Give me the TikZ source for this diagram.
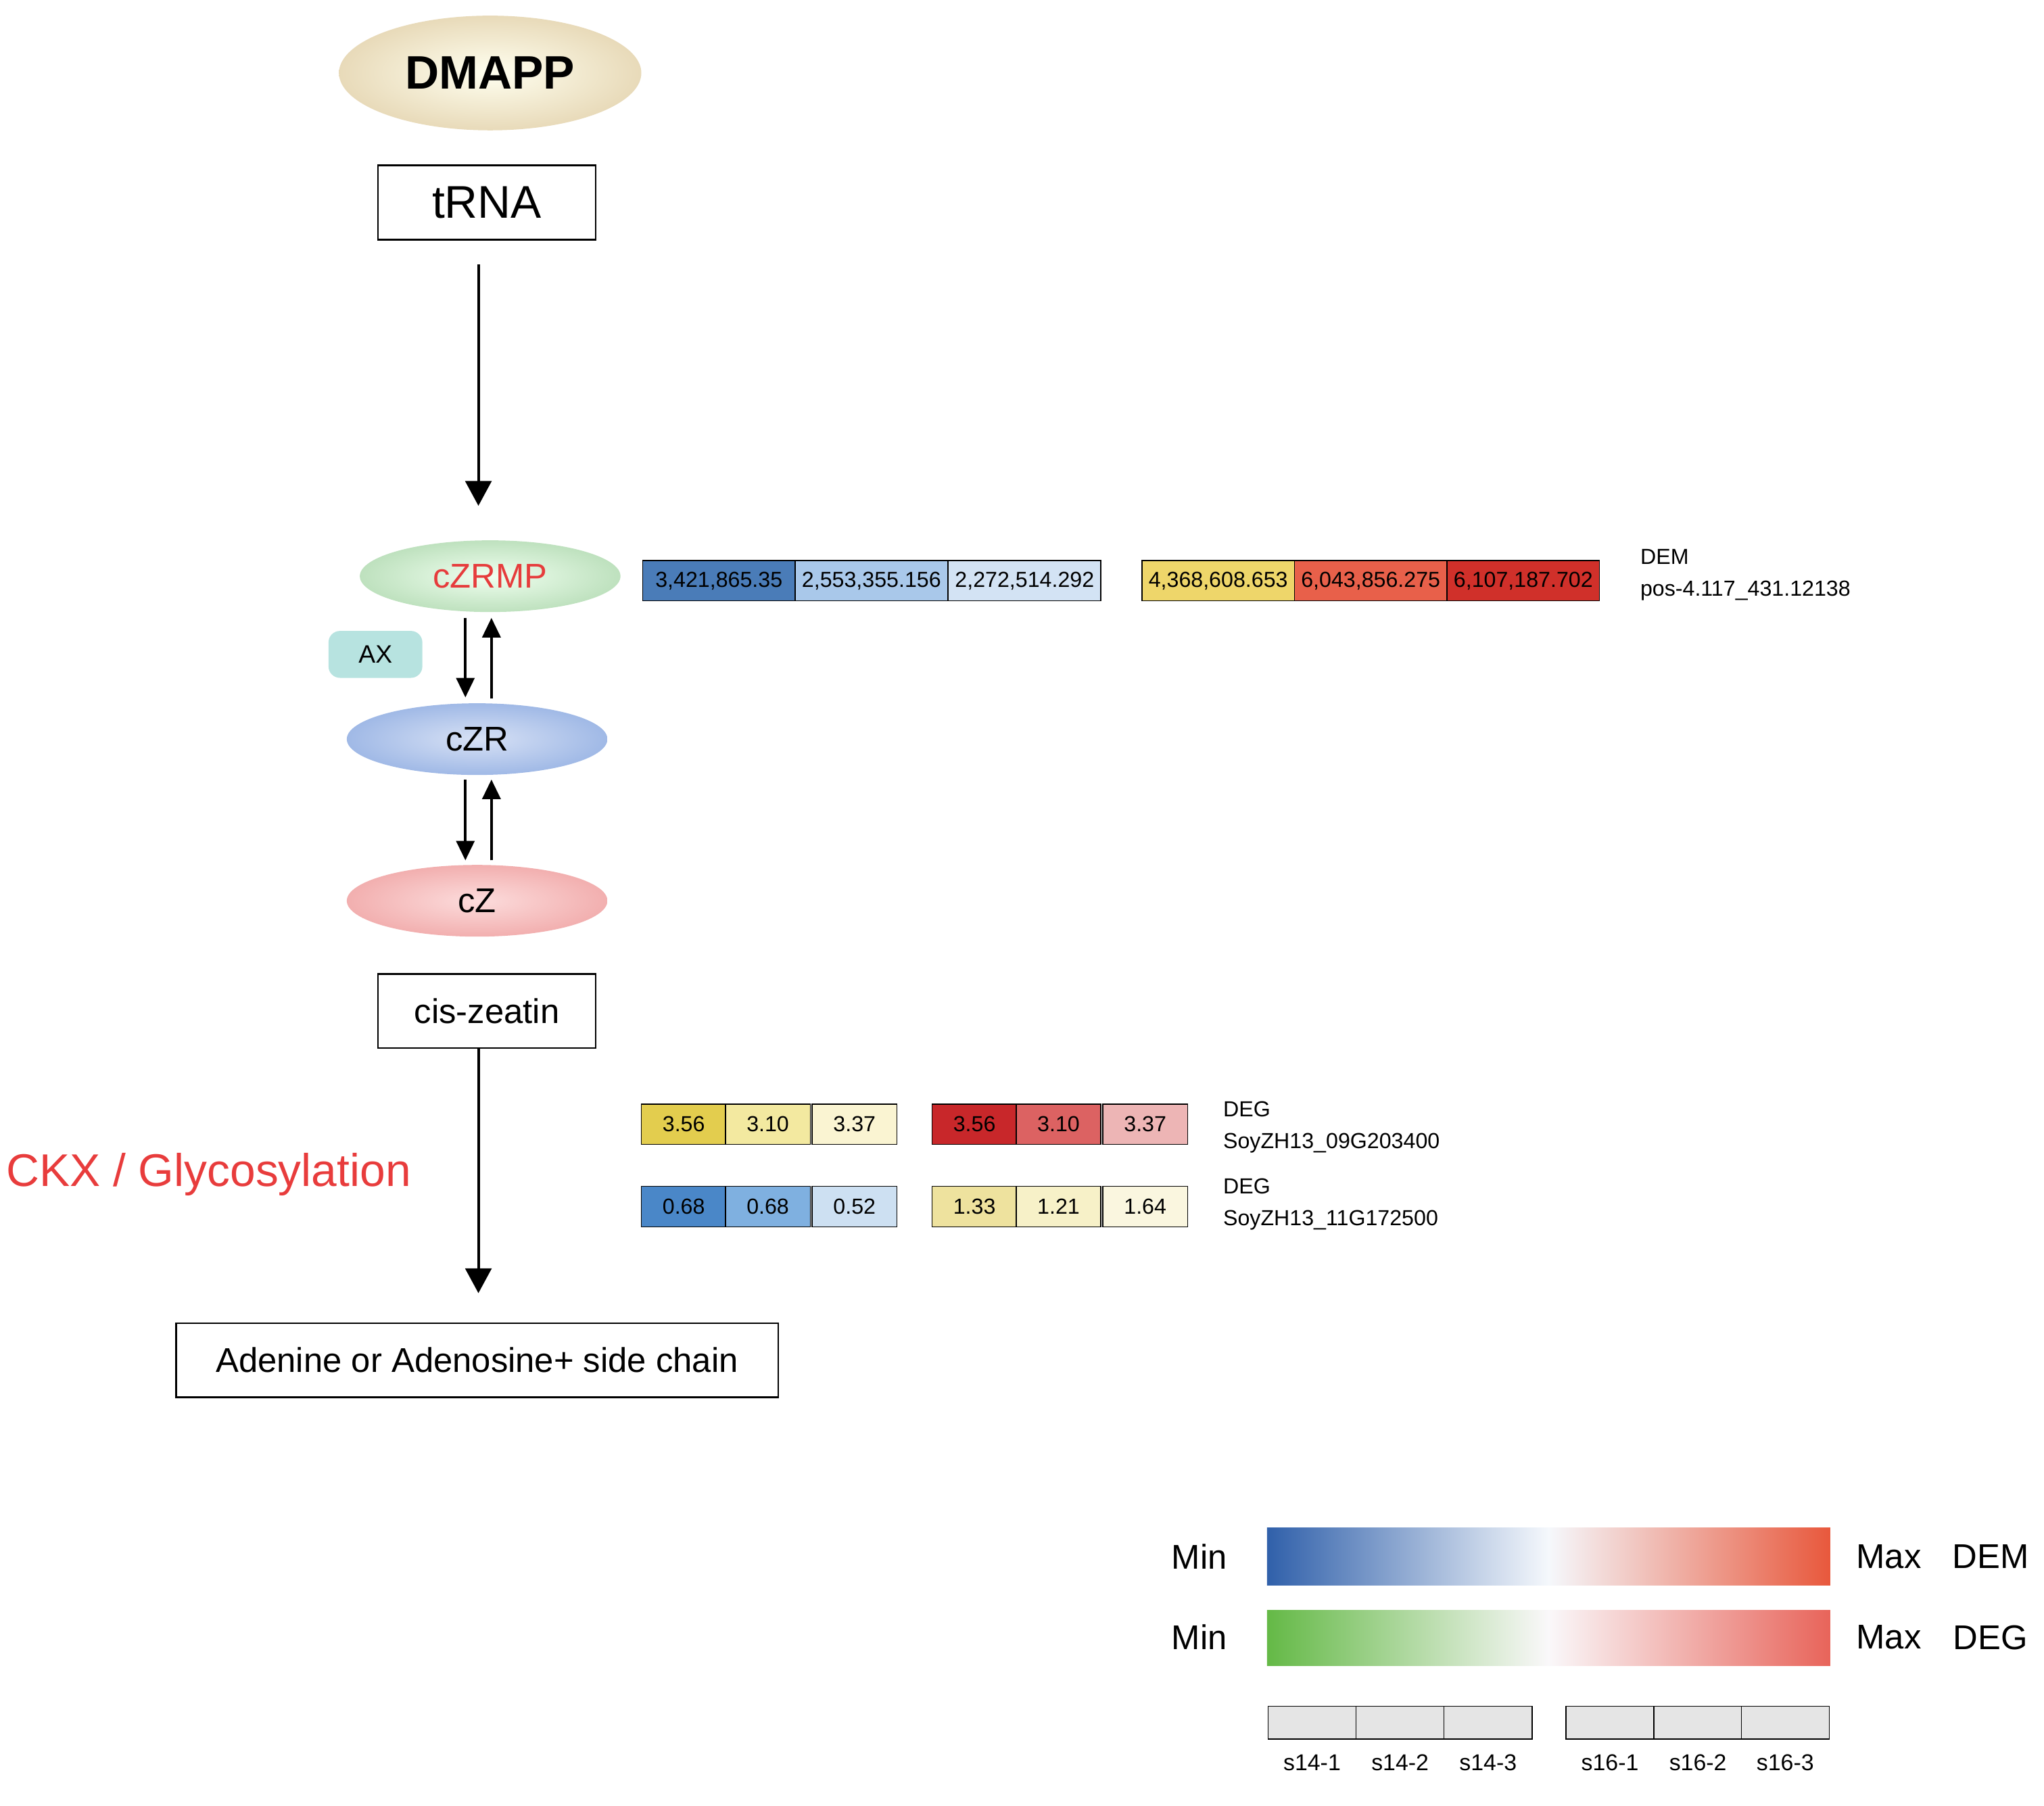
\documentclass[tikz,border=0pt]{standalone}
\usepackage{fontspec}
\setmainfont{Liberation Sans}
\usetikzlibrary{arrows.meta,shapes.geometric}
\begin{document}
\begin{tikzpicture}[x=0.02cm,y=-0.02cm,
  box/.style={draw,thick,minimum height=1.14cm,inner sep=0pt},
  ell/.style={ellipse,minimum width=4cm,minimum height=1.1cm,inner sep=0pt},
  big/.style={-{Triangle[length=0.38cm,width=0.4cm]},line width=1.2pt},
  sm/.style={-{Triangle[length=0.3cm,width=0.28cm]},line width=1.1pt},
  cell/.style={draw,minimum height=0.62cm,inner sep=0pt,font=\fontsize{9.5}{10}\selectfont},
  lab/.style={anchor=west,inner sep=0pt,font=\fontsize{9.5}{11}\selectfont},
  leg/.style={font=\fontsize{15}{16}\selectfont,inner sep=0pt},
  gcell/.style={draw,fill=gray!20,minimum width=1.35cm,minimum height=0.5cm,inner sep=0pt},
  glab/.style={font=\fontsize{10}{11}\selectfont,inner sep=0pt}]
\useasboundingbox (0,0) rectangle (1568,1385);
% DMAPP
\node[ell,minimum width=4.64cm,minimum height=1.76cm,inner color=white!70!yellow!20,outer color={rgb,255:red,232;green,218;blue,185},font=\bfseries\fontsize{20.5}{22}\selectfont] (dmapp) at (376,56) {DMAPP};
\node[box,minimum width=3.34cm,font=\fontsize{20}{22}\selectfont] (trna) at (373.5,155.5) {tRNA};
\coordinate (a1s) at (367,203); \coordinate (a1e) at (367,388);
\draw[big] (a1s) -- (a1e);
% ellipses
\node[ell,inner color=white!60!green!15,outer color={rgb,255:red,190;green,225;blue,190},text={rgb,255:red,230;green,60;blue,60},font=\fontsize{15}{16}\selectfont] (czrmp) at (376,442) {cZRMP};
\node[ell,inner color={rgb,255:red,215;green,225;blue,245},outer color={rgb,255:red,160;green,185;blue,230},font=\fontsize{15}{16}\selectfont] (czr) at (366,567) {cZR};
\node[ell,inner color={rgb,255:red,252;green,220;blue,220},outer color={rgb,255:red,242;green,175;blue,175},font=\fontsize{15}{16}\selectfont] (cz) at (366,691) {cZ};
\node[draw=none,fill={rgb,255:red,183;green,227;blue,224},rounded corners=5pt,minimum width=1.44cm,minimum height=0.72cm,font=\fontsize{11}{12}\selectfont] (ax) at (288,502) {AX};
\coordinate (b1) at (357,474); \coordinate (b2) at (357,535);
\coordinate (b3) at (377,536); \coordinate (b4) at (377,474);
\draw[sm] (b1) -- (b2); \draw[sm] (b3) -- (b4);
\coordinate (c1) at (357,598); \coordinate (c2) at (357,660);
\coordinate (c3) at (377,660); \coordinate (c4) at (377,598);
\draw[sm] (c1) -- (c2); \draw[sm] (c3) -- (c4);
\node[box,minimum width=3.34cm,font=\fontsize{15}{16}\selectfont] (cis) at (373.5,775.5) {cis-zeatin};
\coordinate (d1) at (367,804); \coordinate (d2) at (367,992);
\draw[big] (d1) -- (d2);
\node[text={rgb,255:red,232;green,60;blue,60},font=\fontsize{20}{22}\selectfont] (ckx) at (160,901) {CKX / Glycosylation};
\node[box,minimum width=9.24cm,font=\fontsize{15}{16}\selectfont] (ade) at (366,1043.5) {Adenine or Adenosine+ side chain};
% DEM cells
\foreach \x/\c/\t [count=\i] in {551.5/{74,124,184}/{3,421,865.35},668.5/{169,200,234}/{2,553,355.156},786/{211,227,244}/{2,272,514.292},934.5/{238,214,106}/{4,368,608.653},1051.5/{232,96,74}/{6,043,856.275},1168.5/{208,48,42}/{6,107,187.702}}
  {\definecolor{tc}{RGB}{\c}
  \node[cell,minimum width=2.34cm,fill=tc] (dem\i) at (\x,445.5) {\t};}
\node[lab] (deml) at (1258,427) {DEM};
\node[lab] (demp) at (1258,453) {pos-4.117\_431.12138};
% DEG cells
\foreach \x/\c/\t [count=\i] in {524.5/{227,205,78}/3.56,589/{243,233,160}/3.10,655.5/{250,244,210}/3.37,747.5/{200,39,42}/3.56,812/{220,98,98}/3.10,878.5/{237,181,181}/3.37}
  {\definecolor{tc}{RGB}{\c}
  \node[cell,minimum width=1.3cm,fill=tc] (dga\i) at (\x,862.5) {\t};}
\foreach \x/\c/\t [count=\i] in {524.5/{74,135,200}/0.68,589/{127,176,224}/0.68,655.5/{205,224,242}/0.52,747.5/{238,226,158}/1.33,812/{247,241,200}/1.21,878.5/{250,246,223}/1.64}
  {\definecolor{tc}{RGB}{\c}
  \node[cell,minimum width=1.3cm,fill=tc] (dgb\i) at (\x,925.5) {\t};}
\node[lab] (dg1) at (938,851) {DEG};
\node[lab] (dg1n) at (938,877) {SoyZH13\_09G203400};
\node[lab] (dg2) at (938,910) {DEG};
\node[lab] (dg2n) at (938,936) {SoyZH13\_11G172500};
% legend
\shade[left color={rgb,255:red,48;green,96;blue,170},right color={rgb,255:red,232;green,88;blue,60},middle color={rgb,255:red,245;green,248;blue,252}] (972,1172) rectangle (1404,1216);
\shade[left color={rgb,255:red,100;green,185;blue,70},right color={rgb,255:red,232;green,100;blue,90},middle color={rgb,255:red,250;green,248;blue,250}] (972,1235) rectangle (1404,1278);
\node[leg] (mn1) at (920,1194) {Min};
\node[leg] (mx1) at (1449,1194) {Max};
\node[leg] (dm) at (1527,1194) {DEM};
\node[leg] (mn2) at (920,1256) {Min};
\node[leg] (mx2) at (1449,1256) {Max};
\node[leg] (dg) at (1527,1256) {DEG};
\foreach \x/\t [count=\i] in {1006.5/s14-1,1074/s14-2,1141.5/s14-3,1235/s16-1,1302.5/s16-2,1369.5/s16-3}{
  \node[gcell] (g\i) at (\x,1321.5) {};
  \node[glab] (gl\i) at (\x,1352) {\t};}
\end{tikzpicture}
\end{document}
